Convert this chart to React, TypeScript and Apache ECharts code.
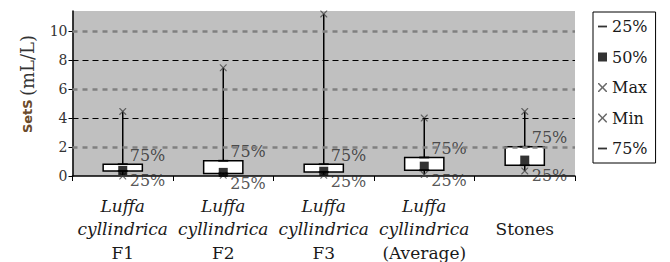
import React, { useEffect, useRef } from "react";
import * as echarts from "echarts";

const categories = [
  "Luffa cyllindrica F1",
  "Luffa cyllindrica F2",
  "Luffa cyllindrica F3",
  "Luffa cyllindrica (Average)",
  "Stones",
];
const q1 = [0.35, 0.17, 0.28, 0.4, 0.75];
const median = [0.38, 0.25, 0.33, 0.68, 1.1];
const q3 = [0.82, 1.05, 0.82, 1.28, 2.02];
const minV = [0.0, 0.05, 0.05, 0.1, 0.35];
const maxV = [4.46, 7.48, 11.2, 4.0, 4.46];
const yTicks = [0, 2, 4, 6, 8, 10];

const SERIF = "DejaVu Serif";
const DASH = "path://M0,0M0,4H10V6H0ZM10,10";
const CROSS =
  "path://M0,0L1.2,0L5,3.8L8.8,0L10,0L10,1.2L6.2,5L10,8.8L10,10L8.8,10L5,6.2L1.2,10L0,10L0,8.8L3.8,5L0,1.2Z";

export default function App() {
  const ref = useRef<HTMLDivElement>(null);
  useEffect(() => {
    if (!ref.current) return;
    const chart = echarts.init(ref.current, undefined, { renderer: "svg" });
    const labelStyle = {
      fontFamily: SERIF,
      fontSize: 16,
      color: "#2a2a2a",
    };
    const option: any = {
      animation: false,
      grid: {
        left: 72.5,
        right: 95,
        top: 11,
        bottom: 86,
        show: true,
        backgroundColor: "#c0c0c0",
        borderWidth: 0,
      },
      xAxis: {
        type: "category",
        data: categories,
        boundaryGap: true,
        axisLine: { lineStyle: { color: "#000", width: 1.5 } },
        axisTick: { show: true, length: 5, lineStyle: { color: "#000" } },
        axisLabel: {
          margin: 18,
          interval: 0,
          formatter: (v: string) => {
            const p = "Luffa cyllindrica ";
            if (v.startsWith(p)) {
              return `{i|Luffa}\n{i|cyllindrica}\n{r|${v.slice(p.length)}}`;
            }
            return `{r| }\n{r|${v}}`;
          },
          rich: {
            i: {
              fontFamily: SERIF,
              fontStyle: "italic",
              fontSize: 17,
              lineHeight: 23.5,
              color: "#1a1a1a",
            },
            r: {
              fontFamily: SERIF,
              fontSize: 17,
              lineHeight: 23.5,
              color: "#1a1a1a",
            },
          },
        },
        splitLine: { show: false },
      },
      yAxis: {
        type: "value",
        min: 0,
        max: 11.4,
        interval: 2,
        axisLine: { show: true, lineStyle: { color: "#000", width: 1.5 } },
        axisTick: {
          show: true,
          length: 4,
          customValues: yTicks,
          lineStyle: { color: "#000" },
        },
        axisLabel: {
          customValues: yTicks,
          margin: 5,
          fontFamily: SERIF,
          fontSize: 14,
          color: "#333",
        },
        splitLine: { show: false },
      },
      legend: {
        orient: "vertical",
        left: 593,
        top: 12,
        padding: [6, 8, 6, 5],
        itemGap: 13.5,
        itemWidth: 9,
        itemHeight: 9,
        borderColor: "#000",
        borderWidth: 1,
        backgroundColor: "#fff",
        textStyle: {
          fontFamily: SERIF,
          fontSize: 16,
          lineHeight: 17,
          color: "#1a1a1a",
        },
        data: [
          { name: "25%", icon: DASH },
          { name: "50%", icon: "rect" },
          { name: "Max", icon: CROSS },
          { name: "Min", icon: CROSS },
          { name: "75%", icon: DASH },
        ],
      },
      graphic: [
        {
          type: "text",
          x: 27,
          y: 84,
          rotation: Math.PI / 2,
          style: {
            text: "{a|SetS} {b|(mL/L)}",
            align: "center",
            verticalAlign: "middle",
            rich: {
              a: {
                fontFamily: "DejaVu Sans",
                fontSize: 13,
                fontWeight: "bold",
                fill: "#6a4a2a",
              },
              b: { fontFamily: SERIF, fontSize: 18, fill: "#333" },
            },
          },
        },
      ],
      series: [
        {
          name: "grid",
          type: "line",
          data: [],
          z: 1,
          markLine: {
            silent: true,
            symbol: ["none", "none"],
            label: { show: false },
            data: yTicks
              .filter((t) => t > 0)
              .map((t, k) => ({
                yAxis: t,
                lineStyle:
                  k % 2 === 0
                    ? { color: "#808080", width: 2.5, type: [5, 5] }
                    : { color: "#000", width: 1, type: [6, 4] },
              })),
          },
        },
        {
          name: "box",
          type: "custom",
          z: 2,
          data: categories.map((_, i) => [i, q1[i], q3[i], minV[i], maxV[i]]),
          renderItem: (params: any, api: any) => {
            const idx = api.value(0);
            const pQ1 = api.coord([idx, api.value(1)]);
            const pQ3 = api.coord([idx, api.value(2)]);
            const pMin = api.coord([idx, api.value(3)]);
            const pMax = api.coord([idx, api.value(4)]);
            const x = pQ1[0];
            const w = api.size([1, 0])[0] * 0.39;
            return {
              type: "group",
              children: [
                {
                  type: "line",
                  shape: { x1: x, y1: pMin[1], x2: x, y2: pMax[1] },
                  style: { stroke: "#000", lineWidth: 1.5 },
                },
                {
                  type: "rect",
                  shape: {
                    x: x - w / 2,
                    y: pQ3[1],
                    width: w,
                    height: pQ1[1] - pQ3[1],
                  },
                  style: { fill: "#fff", stroke: "#000", lineWidth: 1.5 },
                },
              ],
            };
          },
        },
        {
          name: "25%",
          type: "scatter",
          z: 3,
          data: q1,
          symbol: DASH,
          symbolSize: 10,
          itemStyle: { color: "#000" },
          label: {
            show: true,
            formatter: "25%",
            position: "right",
            distance: 2,
            offset: [0, 10],
            ...labelStyle,
          },
        },
        {
          name: "50%",
          type: "scatter",
          z: 4,
          data: median,
          symbol: "rect",
          symbolSize: 9,
          itemStyle: { color: "#000" },
        },
        {
          name: "Max",
          type: "scatter",
          z: 3,
          data: maxV,
          symbol: CROSS,
          symbolSize: 7,
          itemStyle: { color: "#444" },
        },
        {
          name: "Min",
          type: "scatter",
          z: 3,
          data: minV,
          symbol: CROSS,
          symbolSize: 7,
          itemStyle: { color: "#444" },
        },
        {
          name: "75%",
          type: "scatter",
          z: 3,
          data: q3,
          symbol: DASH,
          symbolSize: 10,
          itemStyle: { color: "#000" },
          label: {
            show: true,
            formatter: "75%",
            position: "right",
            distance: 2,
            offset: [0, -9],
            ...labelStyle,
          },
        },
      ],
    };
    chart.setOption(option);
    return () => chart.dispose();
  }, []);
  return (
    <div
      ref={ref}
      style={{ position: "fixed", left: 0, top: 0, width: 670, height: 262, background: "#fff" }}
    />
  );
}
